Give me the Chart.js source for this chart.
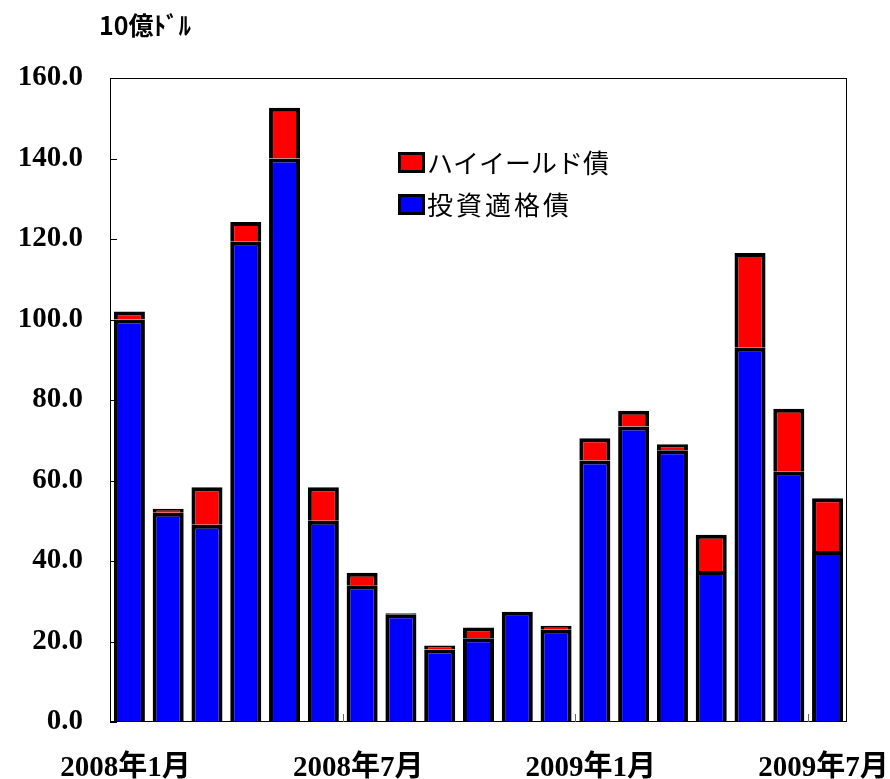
<!DOCTYPE html>
<html>
<head>
<meta charset="utf-8">
<script src="https://cdn.jsdelivr.net/npm/chart.js@4.4.0/dist/chart.umd.min.js"></script>
<style>
  html, body { margin: 0; padding: 0; background: #fff; }
  #wrap { width: 890px; height: 779px; }
</style>
</head>
<body>
<div id="wrap"><canvas id="bondChart" width="890" height="779"></canvas></div>
<script>
// 月 (2008年1月〜2009年7月)
var months = ["2008年1月", "2008年2月", "2008年3月", "2008年4月", "2008年5月", "2008年6月",
  "2008年7月", "2008年8月", "2008年9月", "2008年10月", "2008年11月", "2008年12月",
  "2009年1月", "2009年2月", "2009年3月", "2009年4月", "2009年5月", "2009年6月", "2009年7月"];

// 投資適格債 (10億ドル)
var investmentGrade = [100, 52, 49, 119.3, 140, 50, 34, 26.8, 18, 20.8, 27.4, 22.9,
  65, 73.4, 67.5, 37.5, 93, 62.2, 42.5];

// ハイイールド債 (10億ドル)
var highYield = [2, 1, 9.3, 4.9, 12.6, 8.3, 3.1, 0.2, 1, 2.7, 0, 1,
  5.5, 3.9, 1.5, 9, 23.5, 15.6, 13.1];

// 目盛り
var yTicks = [0, 20, 40, 60, 80, 100, 120, 140, 160];
var xTickEvery = 6;

var serifFont = "'Liberation Serif', 'Times New Roman', 'Noto Sans CJK JP', serif";
var gothicFont = "'Noto Sans CJK JP', sans-serif";

// 枠線・内向き目盛り・凡例・単位
var framePlugin = {
  id: 'frame',
  afterDraw: function(chart) {
    var ctx = chart.ctx;
    var area = chart.chartArea;
    var x = chart.scales.x;
    var y = chart.scales.y;
    ctx.save();
    ctx.strokeStyle = '#000';
    ctx.lineWidth = 1;
    ctx.strokeRect(area.left + 0.5, area.top + 0.5, area.right - area.left - 1, area.bottom - area.top - 1);

    // y目盛り
    yTicks.forEach(function(v) {
      var py = Math.round(y.getPixelForValue(v)) + 0.5;
      ctx.beginPath();
      ctx.moveTo(area.left, py);
      ctx.lineTo(area.left + 7, py);
      ctx.stroke();
    });

    // x目盛り (区切り)
    for (var i = xTickEvery; i < months.length; i += xTickEvery) {
      var px = Math.round((x.getPixelForValue(i - 1) + x.getPixelForValue(i)) / 2) + 0.5;
      ctx.strokeStyle = '#666';
      ctx.beginPath();
      ctx.moveTo(px, area.bottom);
      ctx.lineTo(px, area.bottom - 8);
      ctx.stroke();
    }

    // 凡例
    var items = [
      { text: 'ハイイールド債', color: '#ff0000', top: 152, spacing: '0px' },
      { text: '投資適格債', color: '#0000ff', top: 194, spacing: '3px' }
    ];
    items.forEach(function(it) {
      ctx.fillStyle = '#000';
      ctx.fillRect(398, it.top, 27, 21);
      ctx.fillStyle = it.color;
      ctx.fillRect(401, it.top + 3, 21, 15);
      ctx.fillStyle = '#000';
      ctx.font = "26px " + gothicFont;
      ctx.letterSpacing = it.spacing;
      ctx.textBaseline = 'middle';
      ctx.textAlign = 'left';
      ctx.fillText(it.text, 427, it.top + 11);
    });

    // 単位
    ctx.letterSpacing = '0px';
    ctx.font = "bold 25px " + gothicFont;
    ctx.textBaseline = 'middle';
    ctx.fillText('10億ﾄﾞﾙ', 99, 25);
    ctx.restore();
  }
};

var bondChart = new Chart(document.getElementById('bondChart'), {
  type: 'bar',
  data: {
    labels: months,
    datasets: [{
      label: '投資適格債',
      data: investmentGrade,
      backgroundColor: '#0000ff',
      borderColor: '#000',
      borderWidth: 4,
      borderSkipped: 'start',
      barPercentage: 0.8,
      categoryPercentage: 1.0
    }, {
      label: 'ハイイールド債',
      data: highYield,
      backgroundColor: '#ff0000',
      borderColor: '#000',
      borderWidth: 4,
      borderSkipped: 'start',
      barPercentage: 0.8,
      categoryPercentage: 1.0
    }]
  },
  options: {
    responsive: false,
    animation: false,
    layout: { padding: { left: 0, right: 43, top: 78, bottom: 0 } },
    plugins: {
      legend: { display: false },
      tooltip: { enabled: false }
    },
    scales: {
      x: {
        stacked: true,
        grid: { display: false },
        border: { display: false },
        afterFit: function(scale) {
          scale.height = 57;
          scale.paddingLeft = 0;
          scale.paddingRight = 0;
        },
        ticks: {
          autoSkip: false,
          maxRotation: 0,
          padding: 21,
          labelOffset: -4,
          color: '#000',
          font: { family: serifFont, size: 29, weight: 'bold' },
          callback: function(value, index) {
            return index % xTickEvery === 0 ? months[index] : '';
          }
        }
      },
      y: {
        stacked: true,
        min: 0,
        max: 160,
        grid: { display: false, drawTicks: false },
        border: { display: false },
        afterFit: function(scale) { scale.width = 110; },
        afterBuildTicks: function(scale) {
          scale.ticks = yTicks.map(function(v) { return { value: v }; });
        },
        ticks: {
          padding: 27,
          color: '#000',
          font: { family: serifFont, size: 29, weight: 'bold' },
          callback: function(value) { return value.toFixed(1); }
        }
      }
    }
  },
  plugins: [framePlugin]
});
</script>
</body>
</html>
